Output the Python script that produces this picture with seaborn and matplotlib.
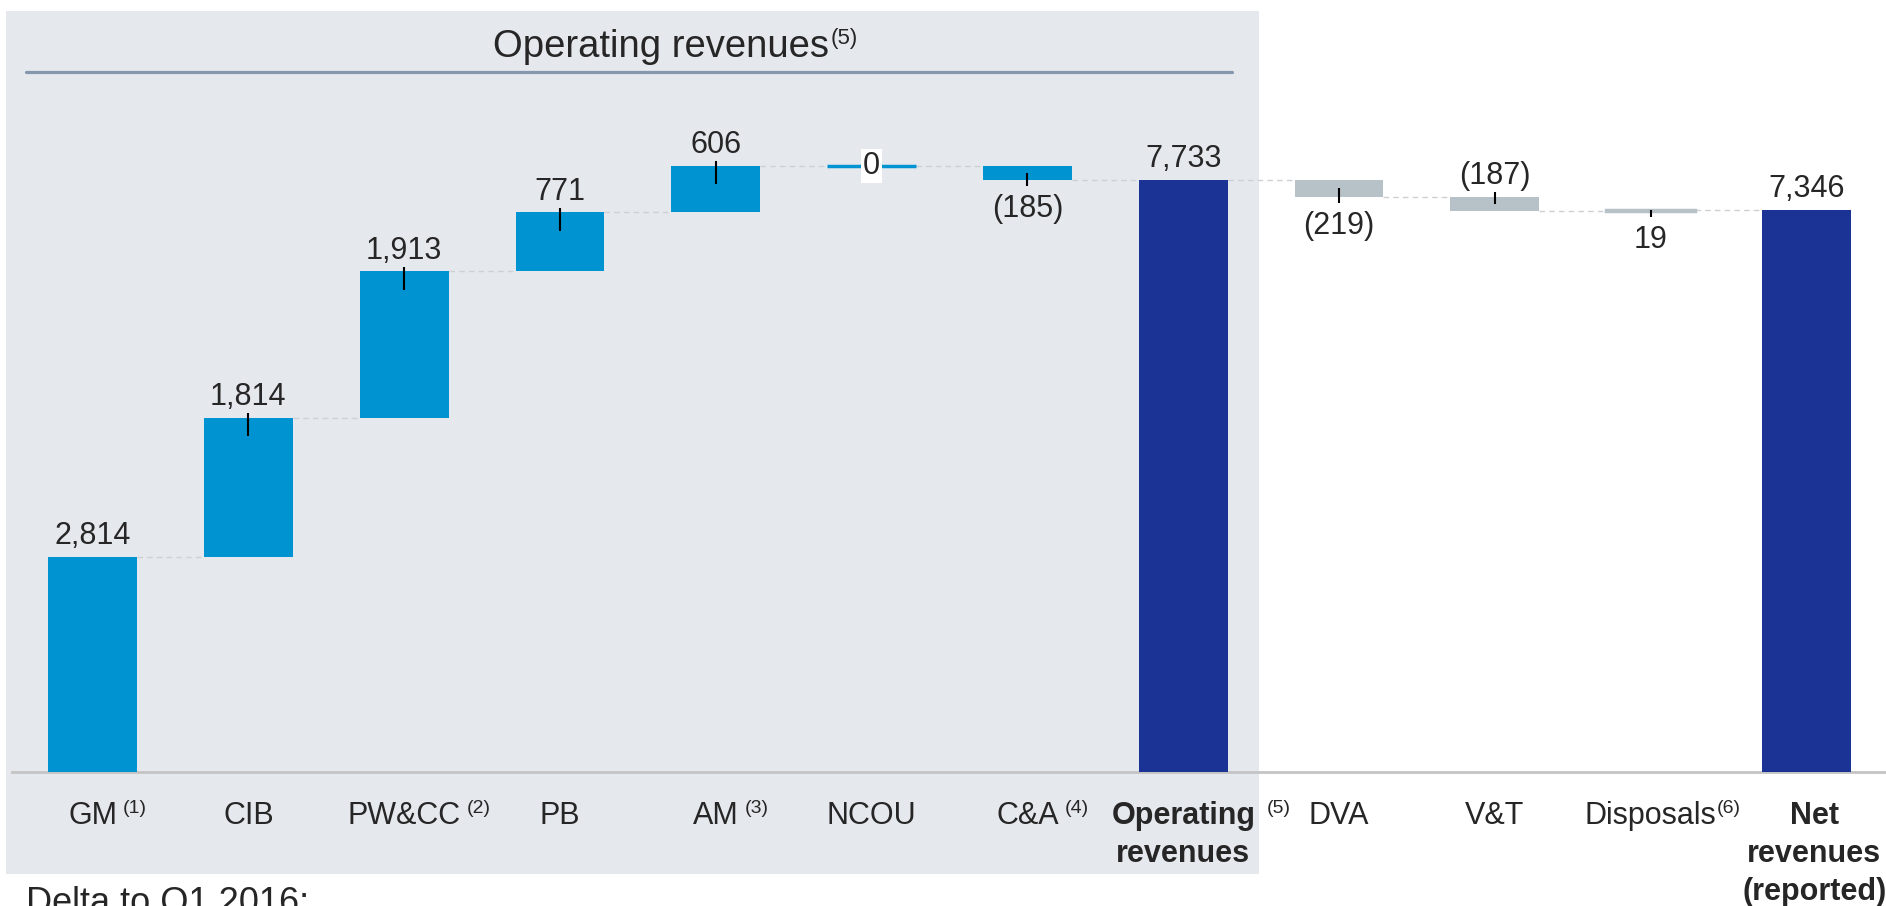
import numpy as np
import pandas as pd
import matplotlib.pyplot as plt
import seaborn as sns
from matplotlib.patches import Rectangle

# waterfall data (EUR m)
categories = ['GM', 'CIB', 'PW&CC', 'PB', 'AM', 'NCOU', 'C&A',
              'Operating revenues', 'DVA', 'V&T', 'Disposals', 'Net revenues']
tick_labels = ['GM', 'CIB', 'PW&CC', 'PB', 'AM', 'NCOU', 'C&A',
               'Operating\nrevenues', 'DVA', 'V&T', 'Disposals',
               'Net\nrevenues\n(reported)']
footnotes = ['(1)', '', '(2)', '', '(3)', '', '(4)', '(5)', '', '', '(6)', '']
values = [2814, 1814, 1913, 771, 606, 0, -185, 7733, -219, -187, 19, 7346]
kinds = ['start', 'delta', 'delta', 'delta', 'delta', 'delta', 'delta',
         'total', 'delta', 'delta', 'delta', 'total']
sections = ['op'] * 8 + ['other'] * 4
value_labels = ['2,814', '1,814', '1,913', '771', '606', '0', '(185)',
                '7,733', '(219)', '(187)', '19', '7,346']
label_side = ['above', 'above', 'above', 'above', 'above', 'center', 'below',
              'above', 'below', 'above', 'below', 'above']

BLUE = '#0093D1'
NAVY = '#1B3395'
GREY = '#B7C1C8'
BG = '#E5E8ED'

# running totals -> bar bottoms / heights
bottoms, heights, levels = [], [], []
running = 0
for v, k in zip(values, kinds):
    if k in ('start', 'total'):
        bottoms.append(0)
        heights.append(v)
        running = v
    else:
        bottoms.append(min(running, running + v))
        heights.append(abs(v))
        running += v
    levels.append(running)

df = pd.DataFrame({'category': categories, 'height': heights, 'bottom': bottoms})
colors = [NAVY if k == 'total' else (BLUE if s == 'op' else GREY)
          for k, s in zip(kinds, sections)]

sns.set_style('white')
plt.rcParams['font.family'] = ['Liberation Sans', 'DejaVu Sans']

fig = plt.figure(figsize=(18.86, 9.06), dpi=100)
fig.patch.set_facecolor('white')
fig.patches.append(Rectangle((6 / 1886, 32 / 906), 1253 / 1886, 863 / 906,
                             transform=fig.transFigure, facecolor=BG,
                             edgecolor='none', zorder=-5))

ax = fig.add_axes([12 / 1886, 134 / 906, 1 - 12 / 1886, 761 / 906])
ax.set_facecolor('none')
ax.set_zorder(2)

W = 0.57
sns.barplot(data=df, x='category', y='height', bottom=df['bottom'].to_numpy(),
            width=W, color=BLUE, saturation=1, errorbar=None, ax=ax, zorder=3)
for patch, c, h in zip(ax.patches, colors, heights):
    patch.set_facecolor(c)
    if h < 40:
        patch.set_edgecolor(c)
        patch.set_linewidth(2.5)
    else:
        patch.set_edgecolor('none')
        patch.set_linewidth(0)

ax.set_xlim(-0.517, 11.51)
ax.set_ylim(0, 9940)

# dashed connectors
for i in range(len(categories) - 1):
    ax.hlines(levels[i], i + W / 2, i + 1 - W / 2, colors='#CDD1D6',
              linestyles=(0, (4, 3)), linewidth=1, zorder=2)

# value labels and small markers
for i, (lab, side) in enumerate(zip(value_labels, label_side)):
    top = bottoms[i] + heights[i]
    bot = bottoms[i]
    if side == 'above':
        ax.annotate(lab, (i, top), xytext=(0, 4), textcoords='offset points',
                    ha='center', va='bottom', fontsize=22, zorder=5)
        if kinds[i] == 'delta':
            inward = min(240, heights[i] / 2)
            ax.vlines(i, top - inward, top + 60, colors='black', linewidth=1.5, zorder=4)
    elif side == 'below':
        ax.annotate(lab, (i, bot), xytext=(0, -10), textcoords='offset points',
                    ha='center', va='top', fontsize=22, zorder=5)
        if kinds[i] == 'delta':
            inward = min(240, heights[i] / 2)
            ax.vlines(i, bot - 80, bot + inward, colors='black', linewidth=1.5, zorder=4)
    else:
        ax.text(i, top, lab, ha='center', va='center', fontsize=22, zorder=5,
                bbox=dict(facecolor='white', edgecolor='none', pad=1.5))

# category labels with footnote marks
ax.set_xticks(range(len(categories)))
ax.set_xticklabels([])
ax.tick_params(axis='both', length=0)
ax.set_yticks([])
ax.set_xlabel('')
ax.set_ylabel('')
xt = ax.get_xaxis_transform()
for i, (lab, fn) in enumerate(zip(tick_labels, footnotes)):
    bold = kinds[i] == 'total'
    shift = 0.05 if i == len(tick_labels) - 1 else 0
    t = ax.text(i + shift, -0.038, lab, transform=xt, ha='center', va='top',
                fontsize=22, fontweight='bold' if bold else 'normal',
                linespacing=1.35, clip_on=False)
    if fn:
        gap = 0 if lab == 'Disposals' else (8 if bold else 4)
        ax.annotate(fn, xy=(1, 1), xycoords=t, xytext=(gap, 1),
                    textcoords='offset points', ha='left', va='top',
                    fontsize=14, annotation_clip=False)

sns.despine(ax=ax, left=True, top=True, right=True)
ax.spines['bottom'].set_color('#C4C4C4')
ax.spines['bottom'].set_linewidth(2)

# section header
hdr = fig.text(661 / 1886, 1 - 57 / 906, 'Operating revenues', ha='center',
               va='baseline', fontsize=27.5)
fig.add_artist(plt.Annotation('(5)', xy=(1, 1), xycoords=hdr, xytext=(1, 1),
                              textcoords='offset points', ha='left', va='top',
                              fontsize=16))
fig.add_artist(plt.Line2D([26 / 1886, 1232 / 1886], [1 - 72 / 906, 1 - 72 / 906],
                          transform=fig.transFigure, color='#8497AC', linewidth=2.3))

fig.text(26 / 1886, -0.008, 'Delta to Q1 2016:', ha='left', va='baseline', fontsize=26)

fig.savefig('out.png', dpi=100)
